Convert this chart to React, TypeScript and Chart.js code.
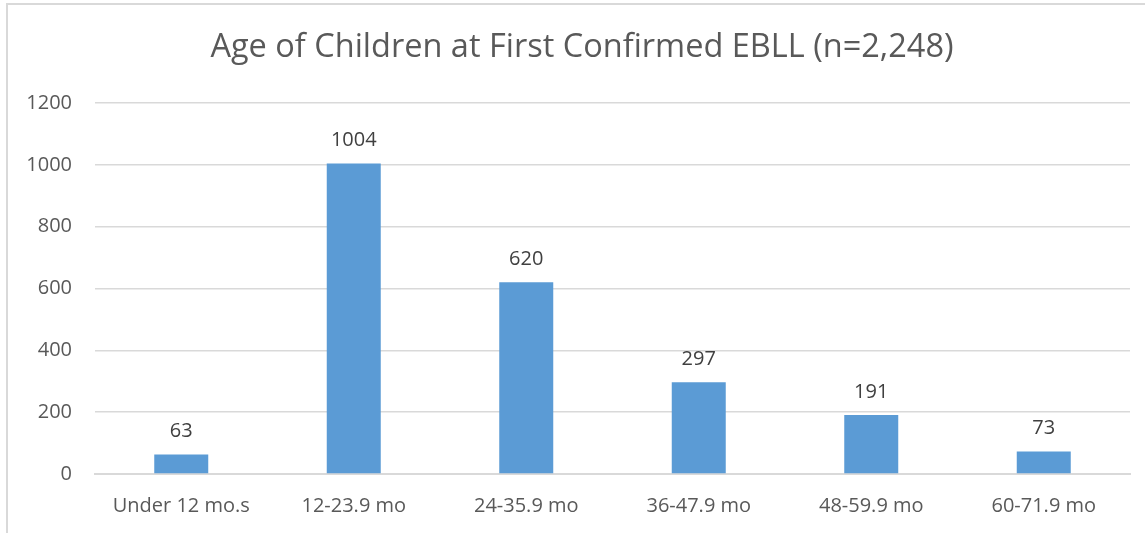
import React, { useEffect, useRef } from "react";
import { Chart, registerables } from "chart.js";

Chart.register(...registerables);

const categories = ["Under 12 mo.s", "12-23.9 mo", "24-35.9 mo", "36-47.9 mo", "48-59.9 mo", "60-71.9 mo"];
const counts = [63, 1004, 620, 297, 191, 73];
const titleText = "Age of Children at First Confirmed EBLL (n=2,248)";
const FONT = "'Open Sans', 'Liberation Sans', sans-serif";

const valueLabels = {
  id: "valueLabels",
  afterDatasetsDraw(chart: any) {
    const ctx = chart.ctx;
    const meta = chart.getDatasetMeta(0);
    ctx.save();
    ctx.font = `20px ${FONT}`;
    ctx.fillStyle = "#404040";
    ctx.textAlign = "center";
    ctx.textBaseline = "middle";
    meta.data.forEach((bar: any, i: number) => {
      ctx.fillText(String(counts[i]), bar.x, bar.y - 23);
    });
    ctx.restore();
  },
};

const chartTitle = {
  id: "chartTitle",
  afterDraw(chart: any) {
    const ctx = chart.ctx;
    ctx.save();
    ctx.font = `32.5px ${FONT}`;
    ctx.fillStyle = "#595959";
    ctx.textAlign = "center";
    ctx.textBaseline = "middle";
    ctx.fillText(titleText, 582, 48);
    ctx.restore();
  },
};

export default function App() {
  const ref = useRef<HTMLCanvasElement>(null);
  useEffect(() => {
    document.body.style.margin = "0";
    const chart = new Chart(ref.current!, {
      type: "bar",
      data: {
        labels: categories,
        datasets: [
          {
            data: counts,
            backgroundColor: "#5B9BD5",
            barPercentage: 0.313,
            categoryPercentage: 1,
          },
        ],
      },
      options: {
        animation: false,
        responsive: false,
        layout: { padding: { left: 0, right: 15, top: 103, bottom: 0 } },
        plugins: {
          legend: { display: false },
          tooltip: { enabled: false },
          title: { display: false },
        },
        scales: {
          x: {
            grid: { display: false, drawTicks: false },
            border: { display: true, color: "#D9D9D9", width: 2 },
            ticks: { color: "#595959", font: { family: FONT, size: 20 }, padding: 20 },
            afterFit: (s: any) => { s.height = 59; },
          },
          y: {
            min: 0,
            max: 1200,
            ticks: {
              stepSize: 200,
              color: "#595959",
              font: { family: FONT, size: 20 },
              padding: 23,
              callback: (v: any) => String(v),
            },
            grid: { color: "#D9D9D9", lineWidth: 1.5, drawTicks: false },
            border: { display: false },
            afterFit: (s: any) => { s.width = 95; },
          },
        },
      },
      plugins: [valueLabels, chartTitle],
    });
    return () => chart.destroy();
  }, []);
  return (
    <div style={{ position: "relative", width: 1145, height: 533, background: "#fff" }}>
      <canvas ref={ref} width={1145} height={533} style={{ position: "absolute", left: 0, top: 0 }} />
      <div
        style={{
          position: "absolute",
          left: 6,
          top: 3,
          width: 1145,
          height: 533,
          borderLeft: "2px solid #D9D9D9",
          borderTop: "2px solid #D9D9D9",
          pointerEvents: "none",
        }}
      />
    </div>
  );
}
